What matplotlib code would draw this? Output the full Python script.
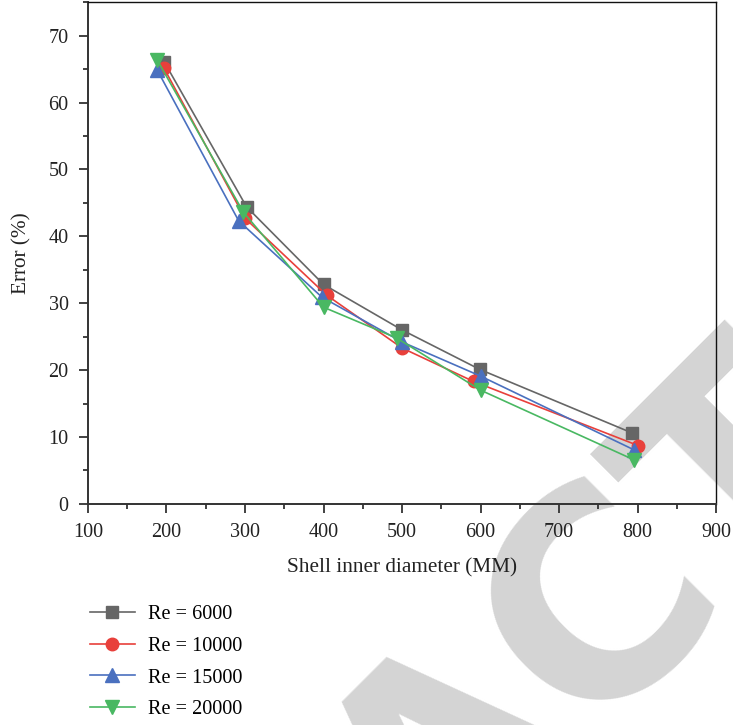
import matplotlib.pyplot as plt
from matplotlib.ticker import MultipleLocator

# values
d_6000 = [197, 302, 400, 500, 599, 793]
e_6000 = [66.1, 44.4, 32.8, 26.0, 20.1, 10.6]
d_10000 = [197, 300, 404, 500, 591, 801]
e_10000 = [65.1, 42.7, 31.2, 23.3, 18.3, 8.7]
d_15000 = [188, 292, 398, 500, 600, 795]
e_15000 = [64.9, 42.3, 30.9, 24.2, 19.1, 8.1]
d_20000 = [188, 298, 400, 493, 600, 795]
e_20000 = [66.4, 43.6, 29.4, 24.8, 17.0, 6.6]
labels = ["Re = 6000", "Re = 10000", "Re = 15000", "Re = 20000"]

plt.rcParams['font.family'] = ['Liberation Serif', 'DejaVu Serif']

fig = plt.figure(figsize=(7.33, 7.25), dpi=100)
ax = fig.add_axes([0.120, 0.305, 0.857, 0.692])
ax.set_facecolor('none')

# watermark behind the axes
fig.text(0.691, -0.111, "RETRACTED", rotation=45, fontsize=204, fontweight='bold',
         family='DejaVu Sans', color='#d4d4d4', ha='center', va='baseline',
         rotation_mode='anchor', zorder=-1)

series = [
    (d_6000, e_6000, '#666666', 's', 8),
    (d_10000, e_10000, '#e8403b', 'o', 9),
    (d_15000, e_15000, '#4a70bf', '^', 10),
    (d_20000, e_20000, '#49b862', 'v', 10),
]
for (x, y, c, m, ms), lab in zip(series, labels):
    ax.plot(x, y, color=c, marker=m, markersize=ms, lw=1.2, label=lab)

ax.set_xlim(100, 900)
ax.set_ylim(0, 75)
ax.xaxis.set_major_locator(MultipleLocator(100))
ax.xaxis.set_minor_locator(MultipleLocator(50))
ax.yaxis.set_minor_locator(MultipleLocator(5))
ax.set_yticks(range(0, 71, 10))
ax.tick_params(which='both', direction='out', labelsize=14.5, colors='#333333',
               labelcolor='#222222', width=1.3)
ax.tick_params(which='major', length=6.8)
ax.tick_params(which='minor', length=3.8)
ax.tick_params(axis='x', which='major', pad=6.8)
ax.tick_params(axis='y', which='major', pad=7.2)
for s in ['left', 'bottom']:
    ax.spines[s].set_color('#333333')
    ax.spines[s].set_linewidth(1.4)
for s in ['top', 'right']:
    ax.spines[s].set_color('#111111')
    ax.spines[s].set_linewidth(1.0)

ax.set_xlabel("Shell inner diameter (MM)", fontsize=15.3, color='#222222', labelpad=12)
ax.set_ylabel("Error (%)", fontsize=15.3, color='#222222')
ax.yaxis.set_label_coords(-0.090, 0.5)

fig.legend(loc='upper left', bbox_to_anchor=(0.098, 0.191), frameon=False,
           fontsize=14.6, handlelength=2.2, labelspacing=0.62, handletextpad=0.65)

fig.savefig("out.png", dpi=100)
